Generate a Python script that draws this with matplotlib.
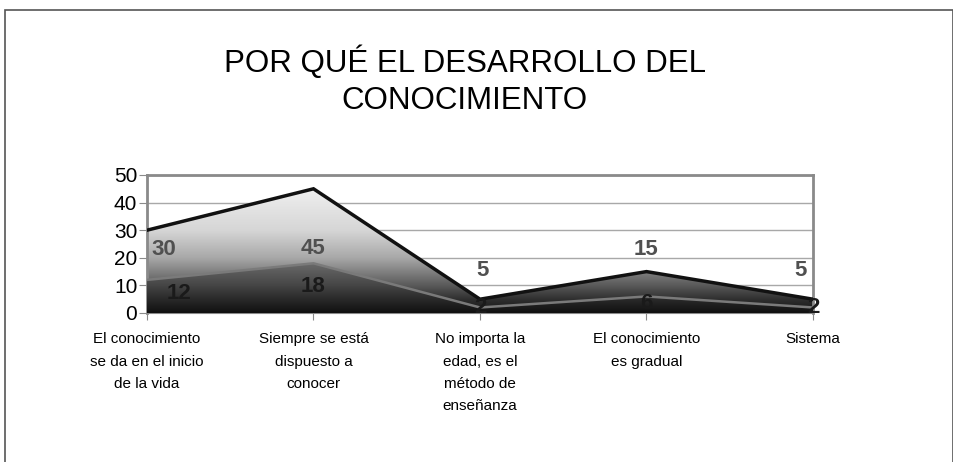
import numpy as np
import matplotlib.pyplot as plt
from matplotlib.colors import LinearSegmentedColormap
from matplotlib.patches import Rectangle

# datos
categorias = ["El conocimiento\nse da en el inicio\nde la vida",
              "Siempre se está\ndispuesto a\nconocer",
              "No importa la\nedad, es el\nmétodo de\nenseñanza",
              "El conocimiento\nes gradual",
              "Sistema"]
serie_a = [30, 45, 5, 15, 5]
serie_b = [12, 18, 2, 6, 2]
titulo = "POR QUÉ EL DESARROLLO DEL\nCONOCIMIENTO"

plt.rcParams['font.family'] = ['Liberation Sans', 'DejaVu Sans']

fig = plt.figure(figsize=(9.54, 4.62), dpi=100)
ax = fig.add_axes([147/954, 149/462, 666/954, 138/462])

x = np.arange(len(categorias))

# rejilla
ax.set_yticks(range(0, 51, 10))
ax.yaxis.grid(True, color='#a8a8a8', lw=1)
ax.set_axisbelow(True)

# degradados
grad = np.linspace(0, 1, 256).reshape(-1, 1)
cm_a = LinearSegmentedColormap.from_list('a', [(0, '#141414'), (0.1, '#303030'), (0.2, '#5a5a5a'),
                                               (0.4, '#a8a8a8'), (0.6, '#d6d6d6'), (0.9, '#efefef'),
                                               (1, '#f4f4f4')])
cm_b = LinearSegmentedColormap.from_list('b', [(0, '#101010'), (0.25, '#2a2a2a'), (0.5, '#464646'),
                                               (0.9, '#6a6a6a'), (1, '#707070')])

poly_a = ax.fill_between(x, 0, serie_a, facecolor='none', edgecolor='none')
img_a = ax.imshow(grad, cmap=cm_a, aspect='auto', origin='lower',
                  extent=[0, 4, 0, 50], zorder=2)
img_a.set_clip_path(poly_a.get_paths()[0], transform=ax.transData)

poly_b = ax.fill_between(x, 0, serie_b, facecolor='none', edgecolor='none')
img_b = ax.imshow(grad, cmap=cm_b, aspect='auto', origin='lower',
                  extent=[0, 4, 0, 20], zorder=3)
img_b.set_clip_path(poly_b.get_paths()[0], transform=ax.transData)
ax.set_ylim(0, 50)
ax.set_xlim(0, len(categorias) - 1)

ax.plot(x, serie_b, color='#7a7a7a', lw=1.8, zorder=4)
ax.plot(x, serie_a, color='#111111', lw=2.5, zorder=5, solid_joinstyle='miter')
ax.plot([0, 4], [0, 0], color='#111111', lw=2.2, zorder=5)

# etiquetas de datos
off_a = [(12, -14), (0, -43), (2, 21), (0, 16), (-9, 21)]
off_b = [(23, -10), (0, -17), (0, 0), (0, -5), (0, 0)]
for i in range(len(x)):
    ax.annotate(str(serie_a[i]), (x[i], serie_a[i]), xytext=off_a[i], textcoords='offset points',
                ha='center', va='center', fontsize=16, fontweight='bold', color='#505050',
                zorder=6, annotation_clip=False)
    ax.annotate(str(serie_b[i]), (x[i], serie_b[i]), xytext=off_b[i], textcoords='offset points',
                ha='center', va='center', fontsize=16, fontweight='bold', color='#1a1a1a',
                zorder=6, annotation_clip=False)

# ejes
for s in ['top', 'right', 'left']:
    ax.spines[s].set_color('#8a8a8a')
    ax.spines[s].set_linewidth(2)
ax.spines['bottom'].set_color('#8a8a8a')
ax.set_xticks(x)
ax.set_xticklabels(categorias, fontsize=11, linespacing=1.75)
ax.tick_params(axis='x', length=5, color='#8a8a8a', pad=9)
ax.tick_params(axis='y', length=6, color='#8a8a8a', labelsize=15, pad=1)

fig.text(0.487, 0.826, titulo, ha='center', va='center', fontsize=22.5, linespacing=1.3)

fig.patches.append(Rectangle((5/954, -0.02), 948/954, (452/462) + 0.02, transform=fig.transFigure,
                             fill=False, edgecolor='#555555', lw=1.2))

fig.savefig('out.png', dpi=100)
